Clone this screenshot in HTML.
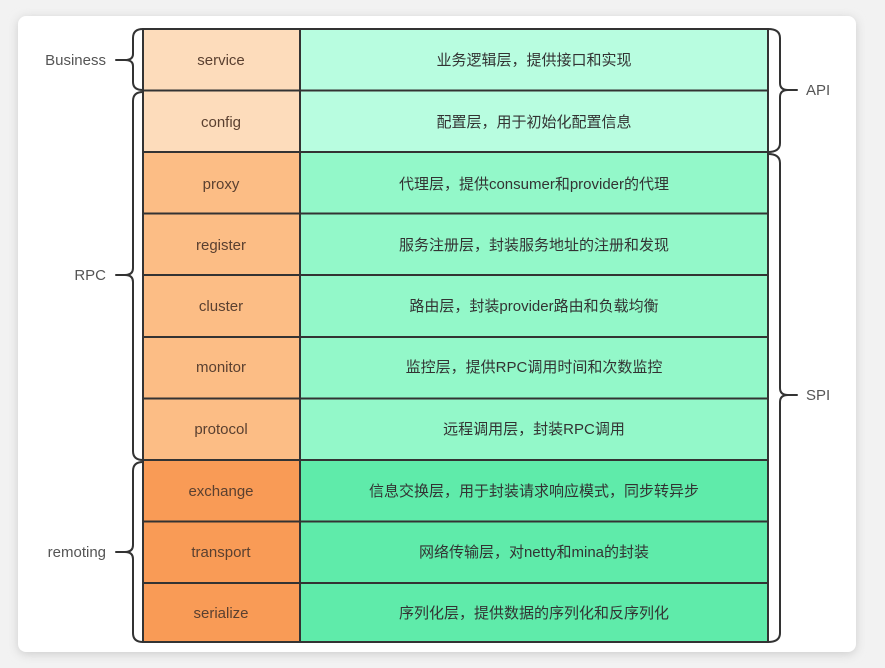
<!DOCTYPE html>
<html><head><meta charset="utf-8"><style>
html,body{margin:0;padding:0;background:#f3f3f3;}
svg{display:block}
</style></head><body>
<svg width="885" height="668" xmlns="http://www.w3.org/2000/svg" font-family="Liberation Sans, Noto Sans CJK SC, sans-serif">
<defs><filter id="sh" x="-5%" y="-5%" width="110%" height="110%"><feGaussianBlur stdDeviation="5"/></filter></defs>
<rect x="0" y="0" width="885" height="668" fill="#f2f2f2"/>
<rect x="18" y="18" width="838" height="636" rx="8" fill="#ccc" filter="url(#sh)"/>
<rect x="18" y="16" width="838" height="636" rx="8" fill="#fff"/>
<g stroke="#333" stroke-width="2">
<rect x="143" y="29" width="157" height="123" fill="#fddcbb"/>
<rect x="143" y="152" width="157" height="308" fill="#fcbd85"/>
<rect x="143" y="460" width="157" height="182" fill="#f99b56"/>
<rect x="300" y="29" width="468" height="123" fill="#b8fde0"/>
<rect x="300" y="152" width="468" height="308" fill="#93f8c9"/>
<rect x="300" y="460" width="468" height="182" fill="#5febaa"/>
<path d="M143 90.5H768M143 213.5H768M143 275H768M143 337H768M143 398.5H768M143 521.5H768M143 583H768" fill="none"/>
</g>
<g fill="none" stroke="#333" stroke-width="2" stroke-linecap="round">
<path d="M143 29 Q133 29 133 38 V54 Q133 60 125 60 H116 M125 60 Q133 60 133 66 V82 Q133 90 143 90"/>
<path d="M143 92 Q133 92 133 101 V268 Q133 275 125 275 H116 M125 275 Q133 275 133 282 V451 Q133 460 143 460"/>
<path d="M143 462 Q133 462 133 471 V545 Q133 552 125 552 H116 M125 552 Q133 552 133 559 V633 Q133 642 143 642"/>
<path d="M768 29 Q780 29 780 38 V83 Q780 90 788 90 H797 M788 90 Q780 90 780 97 V143 Q780 152 768 152"/>
<path d="M768 154 Q780 154 780 163 V388 Q780 395 788 395 H797 M788 395 Q780 395 780 402 V633 Q780 642 768 642"/>
</g>
<g font-size="15" fill="#555" text-anchor="end">
<text x="106" y="65">Business</text>
<text x="106" y="280">RPC</text>
<text x="106" y="557">remoting</text>
</g>
<g font-size="15" fill="#555">
<text x="806" y="95">API</text>
<text x="806" y="400">SPI</text>
</g>
<g font-size="15" fill="#5a4030" text-anchor="middle">
<text x="221" y="65">service</text>
<text x="221" y="127">config</text>
<text x="221" y="189">proxy</text>
<text x="221" y="250">register</text>
<text x="221" y="311">cluster</text>
<text x="221" y="372">monitor</text>
<text x="221" y="434">protocol</text>
<text x="221" y="496">exchange</text>
<text x="221" y="557">transport</text>
<text x="221" y="618">serialize</text>
</g>
<g font-size="15" fill="#333" text-anchor="middle">
<text x="534" y="65">业务逻辑层，提供接口和实现</text>
<text x="534" y="127">配置层，用于初始化配置信息</text>
<text x="534" y="189">代理层，提供consumer和provider的代理</text>
<text x="534" y="250">服务注册层，封装服务地址的注册和发现</text>
<text x="534" y="311">路由层，封装provider路由和负载均衡</text>
<text x="534" y="372">监控层，提供RPC调用时间和次数监控</text>
<text x="534" y="434">远程调用层，封装RPC调用</text>
<text x="534" y="496">信息交换层，用于封装请求响应模式，同步转异步</text>
<text x="534" y="557">网络传输层，对netty和mina的封装</text>
<text x="534" y="618">序列化层，提供数据的序列化和反序列化</text>
</g>
</svg>
</body></html>
